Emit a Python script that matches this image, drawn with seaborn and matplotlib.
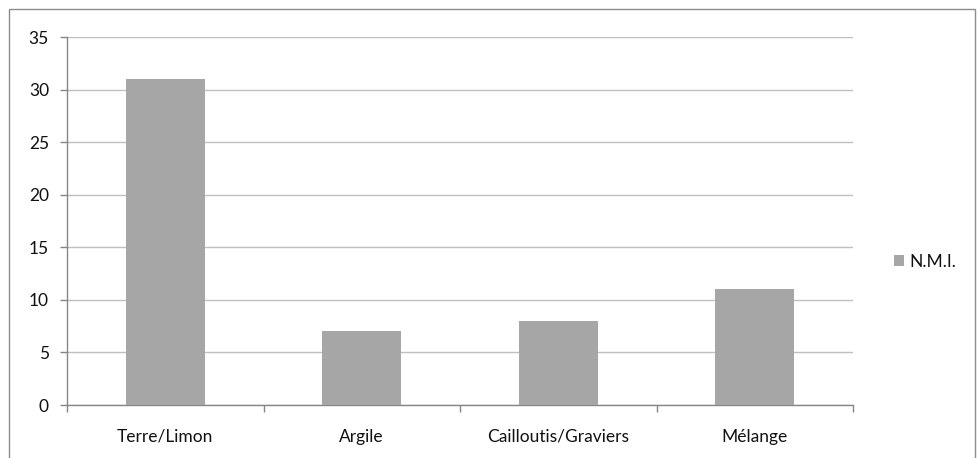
import matplotlib
matplotlib.use("Agg")
import matplotlib.pyplot as plt
from matplotlib.patches import Rectangle
import seaborn as sns
import pandas as pd

# données
categories = ["Terre/Limon", "Argile", "Cailloutis/Graviers", "Mélange"]
nmi = [31, 7, 8, 11]
serie = "N.M.I."

df = pd.DataFrame({"cat": categories, "val": nmi})

sns.set_style("white")
plt.rcParams["font.family"] = ["Lato", "DejaVu Sans"]
fs = 12.5

fig = plt.figure(figsize=(9.79, 4.58), dpi=100)
ax = fig.add_axes([67 / 979, 1 - 405 / 458, (853 - 67) / 979, (405 - 37) / 458])

sns.barplot(data=df, x="cat", y="val", color="#A6A6A6", saturation=1,
            width=0.4, label=serie, ax=ax, zorder=3, linewidth=0)

ax.set_xlim(-0.5, len(categories) - 0.5)
ax.set_ylim(0, 35)
ax.set_yticks(range(0, 36, 5))
ax.yaxis.grid(True, color="#BFBFBF", linewidth=1, zorder=0)
ax.set_xlabel("")
ax.set_ylabel("")

for s in ["top", "right"]:
    ax.spines[s].set_visible(False)
for s in ["left", "bottom"]:
    ax.spines[s].set_color("#868686")
    ax.spines[s].set_linewidth(1)

ax.tick_params(axis="y", length=5, width=1, color="#868686", direction="out",
               labelsize=fs, pad=8, left=True, labelcolor="#111111")
ax.tick_params(axis="x", which="major", length=0, labelsize=fs, pad=17,
               labelcolor="#111111")
ax.set_xticks([i - 0.5 for i in range(len(categories) + 1)], minor=True)
ax.tick_params(axis="x", which="minor", length=5, width=1, color="#868686",
               direction="out", bottom=True)

ax.legend(loc="center left", bbox_to_anchor=(1.032, (405 - 262) / 368), frameon=False,
          fontsize=fs, handlelength=0.6, handleheight=0.6, handletextpad=0.3,
          labelcolor="#111111")

fig.patches.append(Rectangle((9 / 979, -0.05), (975 - 9) / 979, 1.05 - 9 / 458,
                             transform=fig.transFigure, fill=False,
                             edgecolor="#8C8C8C", linewidth=1))

fig.savefig("out.png", dpi=100)
